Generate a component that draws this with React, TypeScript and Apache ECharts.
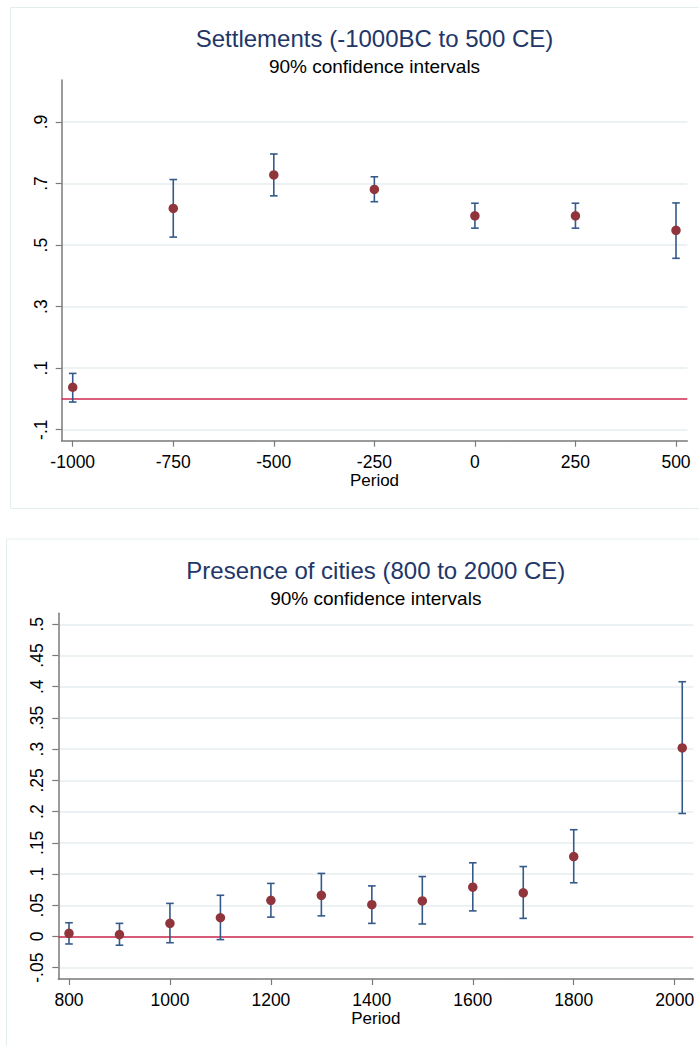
import React, { useEffect, useRef } from "react";
import * as echarts from "echarts";

// ---------- Data ----------
const topPeriods = [-1000, -750, -500, -250, 0, 250, 500];
const topEstimate = [0.038, 0.619, 0.728, 0.681, 0.595, 0.595, 0.548];
const topLower = [-0.01, 0.526, 0.66, 0.641, 0.555, 0.555, 0.457];
const topUpper = [0.083, 0.713, 0.796, 0.722, 0.636, 0.636, 0.637];

const bottomPeriods = [800, 900, 1000, 1100, 1200, 1300, 1400, 1500, 1600, 1700, 1800, 2015];
const bottomEstimate = [0.005, 0.003, 0.021, 0.03, 0.058, 0.066, 0.051, 0.057, 0.079, 0.07, 0.128, 0.302];
const bottomLower = [-0.012, -0.014, -0.01, -0.005, 0.031, 0.033, 0.021, 0.02, 0.041, 0.029, 0.086, 0.197];
const bottomUpper = [0.022, 0.021, 0.053, 0.066, 0.085, 0.101, 0.081, 0.096, 0.118, 0.112, 0.171, 0.408];

const topXTicks = [-1000, -750, -500, -250, 0, 250, 500];
const topYTicks = [-0.1, 0.1, 0.3, 0.5, 0.7, 0.9];
const topYLabels = ["-.1", ".1", ".3", ".5", ".7", ".9"];

const bottomXTicks = [800, 1000, 1200, 1400, 1600, 1800, 2000];
const bottomYTicks = [-0.05, 0, 0.05, 0.1, 0.15, 0.2, 0.25, 0.3, 0.35, 0.4, 0.45, 0.5];
const bottomYLabels = ["-.05", "0", ".05", ".1", ".15", ".2", ".25", ".3", ".35", ".4", ".45", ".5"];

const titles = ["Settlements (-1000BC to 500 CE)", "Presence of cities (800 to 2000 CE)"];
const subtitle = "90% confidence intervals";
const xName = "Period";

// ---------- Styles ----------
const FONT = '"Liberation Sans", Arial, Helvetica, sans-serif';
const AXIS_COLOR = "#7a7a7a";
const GRID_COLOR = "#e6eef0";
const BAR_COLOR = "#34598a";
const DOT_COLOR = "#90353b";
const ZERO_COLOR = "#cc2a4e";
const TITLE_COLOR = "#223668";
const PANEL_BORDER = "#e4eeee";

function labelFor(ticks: number[], labels: string[]) {
  return (v: number) => {
    let best = 0;
    for (let i = 1; i < ticks.length; i++) {
      if (Math.abs(ticks[i] - v) < Math.abs(ticks[best] - v)) best = i;
    }
    return labels[best];
  };
}

function errorBarRender(params: any, api: any) {
  const x = api.value(0);
  const lo = api.coord([x, api.value(1)]);
  const hi = api.coord([x, api.value(2)]);
  const half = 3.8;
  const style = { stroke: BAR_COLOR, lineWidth: 1.6, fill: null };
  return {
    type: "group",
    children: [
      { type: "line", shape: { x1: lo[0], y1: lo[1], x2: hi[0], y2: hi[1] }, style },
      { type: "line", shape: { x1: hi[0] - half, y1: hi[1], x2: hi[0] + half, y2: hi[1] }, style },
      { type: "line", shape: { x1: lo[0] - half, y1: lo[1], x2: lo[0] + half, y2: lo[1] }, style },
    ],
  };
}

function xAxisCfg(gridIndex: number, min: number, max: number, ticks: number[]) {
  return {
    type: "value",
    gridIndex,
    min,
    max,
    name: xName,
    nameLocation: "middle",
    nameGap: 29,
    nameTextStyle: { fontFamily: FONT, fontSize: 17, color: "#000" },
    axisLine: { show: true, onZero: false, lineStyle: { color: AXIS_COLOR, width: 1.5 } },
    axisTick: { show: true, length: 6, lineStyle: { color: AXIS_COLOR, width: 1.2 }, customValues: ticks },
    axisLabel: {
      show: true,
      margin: 12,
      fontFamily: FONT,
      fontSize: 17.5,
      color: "#000",
      customValues: ticks,
      hideOverlap: false,
      formatter: (v: number) => String(Math.round(v)),
    },
    splitLine: { show: false },
  };
}

function yAxisCfg(gridIndex: number, min: number, max: number, ticks: number[], labels: string[]) {
  return {
    type: "value",
    gridIndex,
    min,
    max,
    axisLine: { show: true, onZero: false, lineStyle: { color: AXIS_COLOR, width: 1.5 } },
    axisTick: { show: true, length: 6, lineStyle: { color: AXIS_COLOR, width: 1.2 }, customValues: ticks },
    axisLabel: {
      show: true,
      rotate: 90,
      margin: 12,
      fontFamily: FONT,
      fontSize: 17.5,
      color: "#000",
      customValues: ticks,
      hideOverlap: false,
      formatter: labelFor(ticks, labels),
    },
    splitLine: { show: true, lineStyle: { color: GRID_COLOR, width: 1.5 } },
  };
}

function seriesFor(idx: number, xs: number[], est: number[], lo: number[], hi: number[]) {
  return [
    {
      type: "custom",
      xAxisIndex: idx,
      yAxisIndex: idx,
      renderItem: errorBarRender,
      data: xs.map((x, i) => [x, lo[i], hi[i]]),
      z: 3,
      silent: true,
    },
    {
      type: "scatter",
      xAxisIndex: idx,
      yAxisIndex: idx,
      symbol: "circle",
      symbolSize: 9.5,
      itemStyle: { color: DOT_COLOR, opacity: 1 },
      data: xs.map((x, i) => [x, est[i]]),
      z: 4,
      silent: true,
      markLine: {
        silent: true,
        symbol: "none",
        label: { show: false },
        lineStyle: { color: ZERO_COLOR, width: 1.5, type: "solid" },
        data: [{ yAxis: 0 }],
        z: 2,
      },
    },
  ];
}

function titleText(x: number, y: number, text: string, size: number, color: string) {
  return {
    type: "text",
    x,
    y,
    style: {
      text,
      fontFamily: FONT,
      fontSize: size,
      fill: color,
      textAlign: "center",
      textVerticalAlign: "top",
    },
  };
}

export default function App() {
  const ref = useRef<HTMLDivElement>(null);

  useEffect(() => {
    if (!ref.current) return;
    const chart = echarts.init(ref.current, null, { renderer: "svg" });
    const option: any = {
      animation: false,
      backgroundColor: "#ffffff",
      graphic: [
        {
          type: "rect",
          shape: { x: 10.5, y: 7.5, width: 700, height: 501 },
          style: { fill: "#ffffff", stroke: PANEL_BORDER, lineWidth: 1 },
          z: -10,
        },
        {
          type: "rect",
          shape: { x: 6.5, y: 539, width: 700, height: 520 },
          style: { fill: "#ffffff", stroke: PANEL_BORDER, lineWidth: 1 },
          z: -10,
        },
        titleText(374.5, 26.9, titles[0], 24, TITLE_COLOR),
        titleText(374.5, 56.8, subtitle, 19, "#000"),
        titleText(375.8, 558.6, titles[1], 24, TITLE_COLOR),
        titleText(375.8, 588.5, subtitle, 19, "#000"),
      ],
      grid: [
        { left: 61.7, top: 80, width: 625.6, height: 360.7, outerBoundsMode: "none", containLabel: false },
        { left: 58.3, top: 613.3, width: 635, height: 365.7, outerBoundsMode: "none", containLabel: false },
      ],
      xAxis: [
        xAxisCfg(0, -1027.4, 528.1, topXTicks),
        xAxisCfg(1, 778.8, 2036.9, bottomXTicks),
      ],
      yAxis: [
        yAxisCfg(0, -0.1357, 1.0365, topYTicks, topYLabels),
        yAxisCfg(1, -0.0681, 0.5176, bottomYTicks, bottomYLabels),
      ],
      series: [
        ...seriesFor(0, topPeriods, topEstimate, topLower, topUpper),
        ...seriesFor(1, bottomPeriods, bottomEstimate, bottomLower, bottomUpper),
      ],
    };
    chart.setOption(option);
    return () => chart.dispose();
  }, []);

  return (
    <div
      ref={ref}
      style={{ position: "absolute", left: 0, top: 0, width: 699, height: 1046, background: "#fff" }}
    />
  );
}
